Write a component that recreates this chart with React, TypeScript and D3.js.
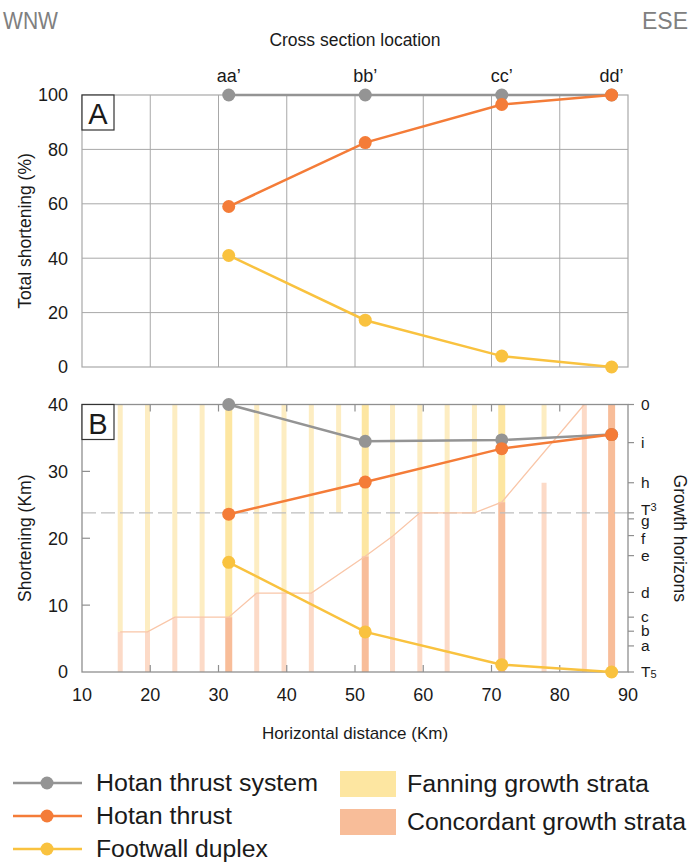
import React from 'react';
import * as d3 from 'd3';

// ---- data ----
const sectionNames = ['aa’', 'bb’', 'cc’', 'dd’'];
const sectionKm = [31.5, 51.5, 71.5, 87.6];

const systemPct = [100, 100, 100, 100];
const thrustPct = [59, 82.5, 96.5, 100];
const duplexPct = [41, 17.2, 4, 0];

const systemKm = [40, 34.5, 34.7, 35.5];
const thrustKm = [23.6, 28.4, 33.4, 35.5];
const duplexKm = [16.4, 6.0, 1.1, 0];

const strataKm = [15.6, 19.6, 23.6, 27.6, 31.5, 35.6, 39.6, 43.6, 47.6, 51.5, 55.5, 59.5, 63.5, 67.5, 71.5, 77.7, 83.6, 87.6];
const strataMain = [false, false, false, false, true, false, false, false, false, true, false, false, false, false, true, false, false, true];
const fanningTop = [40, 40, 40, 40, 40, 40, 40, 40, 40, 40, 40, 40, 40, 40, 40, 40, null, null];
const fanningBase = [6, 6, 8.2, 8.2, 8.2, 11.8, 11.8, 11.8, 23.8, 17.3, 20.3, 23.8, 23.8, 23.8, 25.4, 34.9, null, null];
const concordantTop = [6, 6, 8.2, 8.2, 8.2, 11.8, 11.8, 11.8, null, 17.3, 20.3, 23.8, 23.8, null, 25.4, 28.3, 40, 40];

const boundaryKm = [15.6, 19.6, 23.6, 31.5, 35.6, 43.6, 51.5, 55.5, 59.5, 67.5, 71.5, 83.6];
const boundaryVal = [6, 6, 8.2, 8.2, 11.8, 11.8, 17.3, 20.3, 23.8, 23.8, 25.4, 40];

const horizonNames = ['0', 'i', 'h', 'T3', 'g', 'f', 'e', 'd', 'c', 'b', 'a', 'T5'];
const horizonVals = [40, 34.3, 28.3, 23.8, 22.9, 20.4, 17.4, 11.9, 8.2, 6.1, 3.9, 0];
const t3Level = 23.8;

const xTicks = [10, 20, 30, 40, 50, 60, 70, 80, 90];
const yTicksA = [0, 20, 40, 60, 80, 100];
const yTicksB = [0, 10, 20, 30, 40];

const seriesNames = ['Hotan thrust system', 'Hotan thrust', 'Footwall duplex'];
const strataNames = ['Fanning growth strata', 'Concordant growth strata'];

// ---- style ----
const FONT = 'Liberation Sans, Arial, sans-serif';
const GRAY = '#949494';
const ORANGE = '#f47c38';
const YELLOW = '#f9c23f';
const FAN = '#fde6a1';
const FAN_LIGHT = '#fdedc2';
const CON = '#f8bd99';
const CON_LIGHT = '#fcdac7';
const AXIS = '#8f8f8f';
const GRID = '#a8a8a8';
const TXT = '#1a1a1a';

const seriesTextLen = [222, 136, 172];
const strataTextLen = [242, 279];

export default function App() {
  const W = 691, H = 862;
  const x = d3.scaleLinear().domain([10, 90]).range([82, 628]);
  const yA = d3.scaleLinear().domain([0, 100]).range([367, 95]);
  const yB = d3.scaleLinear().domain([0, 40]).range([672, 404.5]);

  const colors = [GRAY, ORANGE, YELLOW];
  const pctSeries = [systemPct, thrustPct, duplexPct];
  const kmSeries = [systemKm, thrustKm, duplexKm];

  const lineA = d3.line<number>().x((_, i) => x(sectionKm[i])).y(d => yA(d));
  const lineB = d3.line<number>().x((_, i) => x(sectionKm[i])).y(d => yB(d));
  const boundaryLine = d3.line<number>().x((_, i) => x(boundaryKm[i])).y(d => yB(d));

  const renderLabel = (s: string) => {
    if (s.startsWith('T')) {
      return (<>T<tspan fontSize={11} dy={s === 'T3' ? -4 : 1}>{s.slice(1)}</tspan></>);
    }
    return s;
  };
  const labelNudge = (s: string) => (s === 'g' ? 2 : s === 'f' ? 3 : s === 'T3' ? -3 : 0);

  return (
    <svg width={W} height={H} style={{ display: 'block', position: 'absolute', left: 0, top: 0 }} fontFamily={FONT}>
      <rect width={W} height={H} fill="#fff" />
      {/* headers */}
      <text x={3} y={29} fontSize={23} fill="#808080" textLength={55} lengthAdjust="spacingAndGlyphs">WNW</text>
      <text x={688} y={29} fontSize={23} fill="#808080" textAnchor="end">ESE</text>
      <text x={355} y={46} fontSize={17.5} fill={TXT} textAnchor="middle">Cross section location</text>
      {sectionNames.map((n, i) => (
        <text key={n} x={x(sectionKm[i])} y={82} fontSize={18} fill={TXT} textAnchor="middle">{n}</text>
      ))}

      {/* ---------- Panel A ---------- */}
      <g>
        {xTicks.slice(1, -1).map(t => (
          <line key={'gx' + t} x1={x(t)} x2={x(t)} y1={yA(0)} y2={yA(100)} stroke={GRID} strokeWidth={1} />
        ))}
        {yTicksA.slice(1, -1).map(t => (
          <line key={'gy' + t} x1={x(10)} x2={x(90)} y1={yA(t)} y2={yA(t)} stroke={GRID} strokeWidth={1} />
        ))}
        <rect x={x(10)} y={yA(100)} width={x(90) - x(10)} height={yA(0) - yA(100)} fill="none" stroke={GRID} strokeWidth={1.2} />
        {yTicksA.map(t => (
          <text key={'ya' + t} x={68} y={yA(t)} dy="0.36em" fontSize={18} fill={TXT} textAnchor="end">{t}</text>
        ))}
        <text transform={`translate(25,${(yA(0) + yA(100)) / 2}) rotate(-90)`} fontSize={17.5} fill={TXT} textAnchor="middle" dy="0.35em">Total shortening (%)</text>
        <rect x={x(10)} y={yA(100)} width={32} height={35} fill="#fff" stroke="#333" strokeWidth={1.2} />
        <text x={x(10) + 16} y={yA(100) + 29} fontSize={29} fill={TXT} textAnchor="middle">A</text>
        {pctSeries.map((s, k) => (
          <g key={'a' + k}>
            <path d={lineA(s) || ''} fill="none" stroke={colors[k]} strokeWidth={2.5} />
            {s.map((v, i) => (
              <circle key={i} cx={x(sectionKm[i])} cy={yA(v)} r={6.5} fill={colors[k]} />
            ))}
          </g>
        ))}
      </g>

      {/* ---------- Panel B ---------- */}
      <g>
        {strataKm.map((km, i) => {
          const w = strataMain[i] ? 7 : 5;
          const cx = x(km);
          const ft = fanningTop[i], fb = fanningBase[i], ct = concordantTop[i];
          return (
            <g key={'s' + i}>
              {ft != null && fb != null && (
                <rect x={cx - w / 2} y={yB(ft)} width={w} height={yB(fb) - yB(ft)} fill={strataMain[i] ? FAN : FAN_LIGHT} />
              )}
              {ct != null && (
                <rect x={cx - w / 2} y={yB(ct)} width={w} height={yB(0) - yB(ct)} fill={strataMain[i] ? CON : CON_LIGHT} />
              )}
            </g>
          );
        })}
        <line x1={x(10)} x2={x(90) + 3} y1={yB(t3Level)} y2={yB(t3Level)} stroke="#bdbdbd" strokeWidth={1.2} strokeDasharray="14 5" />
        <path d={boundaryLine(boundaryVal) || ''} fill="none" stroke="#f9c6a8" strokeWidth={1.3} />
        {/* frame */}
        <rect x={x(10)} y={yB(40)} width={x(90) - x(10)} height={yB(0) - yB(40)} fill="none" stroke={AXIS} strokeWidth={1.3} />
        {/* inner ticks */}
        {xTicks.slice(1, -1).map(t => (
          <g key={'xt' + t}>
            <line x1={x(t)} x2={x(t)} y1={yB(0)} y2={yB(0) - 7} stroke={AXIS} strokeWidth={1.2} />
            <line x1={x(t)} x2={x(t)} y1={yB(40)} y2={yB(40) + 7} stroke={AXIS} strokeWidth={1.2} />
          </g>
        ))}
        {yTicksB.slice(1, -1).map(t => (
          <line key={'yt' + t} x1={x(10)} x2={x(10) + 8} y1={yB(t)} y2={yB(t)} stroke={AXIS} strokeWidth={1.2} />
        ))}
        {horizonVals.map((v, i) => (
          <line key={'ht' + i} x1={x(90)} x2={x(90) + 6} y1={yB(v)} y2={yB(v)} stroke={AXIS} strokeWidth={1.2} />
        ))}
        {yTicksB.map(t => (
          <text key={'yb' + t} x={68} y={yB(t)} dy="0.36em" fontSize={18} fill={TXT} textAnchor="end">{t}</text>
        ))}
        {xTicks.map(t => (
          <text key={'xb' + t} x={x(t)} y={701} fontSize={18} fill={TXT} textAnchor="middle">{t}</text>
        ))}
        {horizonNames.map((n, i) => (
          <text key={'hn' + i} x={641} y={yB(horizonVals[i]) + labelNudge(n)} dy="0.34em" fontSize={15.5} fill={TXT}>{renderLabel(n)}</text>
        ))}
        <text transform={`translate(25,${(yB(0) + yB(40)) / 2}) rotate(-90)`} fontSize={17.5} fill={TXT} textAnchor="middle" dy="0.35em">Shortening (Km)</text>
        <text transform={`translate(680,${(yB(0) + yB(40)) / 2}) rotate(90)`} fontSize={17.5} fill={TXT} textAnchor="middle" dy="0.35em">Growth horizons</text>
        <text x={355} y={739} fontSize={17} fill={TXT} textAnchor="middle">Horizontal distance (Km)</text>
        <rect x={x(10)} y={yB(40)} width={32} height={35} fill="#fff" stroke="#333" strokeWidth={1.2} />
        <text x={x(10) + 16} y={yB(40) + 29} fontSize={29} fill={TXT} textAnchor="middle">B</text>
        {kmSeries.map((s, k) => (
          <g key={'b' + k}>
            <path d={lineB(s) || ''} fill="none" stroke={colors[k]} strokeWidth={2.5} />
            {s.map((v, i) => (
              <circle key={i} cx={x(sectionKm[i])} cy={yB(v)} r={6.5} fill={colors[k]} />
            ))}
          </g>
        ))}
      </g>

      {/* ---------- Legend ---------- */}
      {seriesNames.map((n, k) => {
        const yy = 783 + k * 33;
        return (
          <g key={'lg' + k}>
            <line x1={13} x2={82} y1={yy} y2={yy} stroke={colors[k]} strokeWidth={2.5} />
            <circle cx={47} cy={yy} r={6.5} fill={colors[k]} />
            <text x={96} y={yy} dy="0.34em" fontSize={23} fill={TXT} textLength={seriesTextLen[k]} lengthAdjust="spacingAndGlyphs">{n}</text>
          </g>
        );
      })}
      {strataNames.map((n, k) => {
        const yy = 771 + k * 38;
        return (
          <g key={'ls' + k}>
            <rect x={340} y={yy} width={56} height={26} fill={k === 0 ? FAN : CON} />
            <text x={407} y={yy + 13} dy="0.34em" fontSize={23} fill={TXT} textLength={strataTextLen[k]} lengthAdjust="spacingAndGlyphs">{n}</text>
          </g>
        );
      })}
    </svg>
  );
}
